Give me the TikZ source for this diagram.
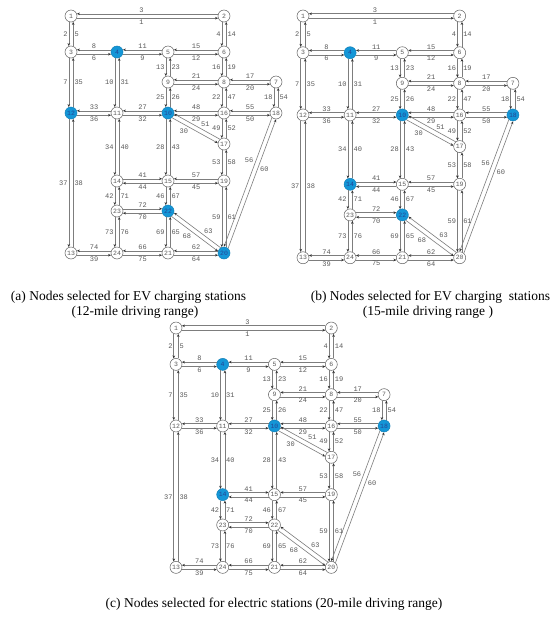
\documentclass[tikz,border=0pt]{standalone}
\usepackage{fontspec}
\setmainfont{Liberation Serif}
\newfontfamily\cour{Liberation Mono}
\usetikzlibrary{calc,arrows.meta}
\definecolor{selblue}{RGB}{20,150,215}
\definecolor{linkgray}{RGB}{125,125,125}
\definecolor{labgray}{RGB}{90,90,90}
\tikzset{
  stn/.style={circle, draw=gray!75!black, line width=0.5pt, fill=white,
    minimum size=12pt, inner sep=0pt,
    font=\cour\fontsize{6.5}{6.5}\selectfont, text=labgray},
  selnode/.style={fill=selblue, draw=selblue!85!black, text={rgb,255:red,35;green,70;blue,150}},
  link/.style={draw=linkgray, line width=0.6pt, shorten <=5.9pt, shorten >=5.9pt,
    -{Stealth[length=3pt,width=2.6pt,color=black!80]}},
  lab/.style={font=\cour\fontsize{7}{7}\selectfont, text=labgray, inner sep=1pt},
  captext/.style={font=\fontsize{13.5}{15}\selectfont, inner sep=0pt},
  sela4/.style={selnode}, sela12/.style={selnode}, sela10/.style={selnode},
  sela22/.style={selnode}, sela20/.style={selnode},
  selb4/.style={selnode}, selb10/.style={selnode}, selb18/.style={selnode},
  selb14/.style={selnode}, selb22/.style={selnode},
  selc4/.style={selnode}, selc10/.style={selnode}, selc18/.style={selnode},
  selc14/.style={selnode}
}
\newcommand\drawnet[1]{%
  \foreach \n/\x/\y in {1/0/0,2/153/0,3/0/36,4/46/36,5/97/36,6/153/36,7/205/66,
      8/153/66,9/97/66,10/97/97,11/46/97,12/0/97,13/0/237,14/46/165,15/97/165,
      16/153/97,17/153/128,18/205/97,19/153/165,20/153/237,21/97/237,22/97/195,
      23/46/195,24/46/237}{%
    \edef\tmp{\noexpand\node[stn,sel#1\n/.try] (#1\n) at (\x,\y) {\n};}\tmp
  }
  \foreach \s/\t/\l/\p in {1/2/1/.46, 1/3/2/.5, 2/1/3/.54, 2/6/4/.5, 3/1/5/.5,
      3/4/6/.5, 3/12/7/.5, 4/3/8/.5, 4/5/9/.5, 4/11/10/.5, 5/4/11/.5, 5/6/12/.5,
      5/9/13/.5, 6/2/14/.5, 6/5/15/.5, 6/8/16/.5, 7/8/17/.5, 7/18/18/.5,
      8/6/19/.5, 8/7/20/.5, 8/9/21/.5, 8/16/22/.5, 9/5/23/.5, 9/8/24/.5,
      9/10/25/.5, 10/9/26/.5, 10/11/27/.5, 10/15/28/.5, 10/16/29/.5, 10/17/30/.4,
      11/4/31/.5, 11/10/32/.5, 11/12/33/.5, 11/14/34/.5, 12/3/35/.5, 12/11/36/.5,
      12/13/37/.5, 13/12/38/.5, 13/24/39/.5, 14/11/40/.5, 14/23/42/.5,
      15/10/43/.5, 15/19/45/.5, 15/22/46/.5, 16/8/47/.5, 16/10/48/.5,
      16/17/49/.5, 16/18/50/.5, 17/10/51/.45, 17/16/52/.5, 17/19/53/.5,
      18/7/54/.5, 18/16/55/.5, 18/20/56/.37, 19/15/57/.5, 19/17/58/.5,
      19/20/59/.5, 20/18/60/.63, 20/19/61/.5, 20/21/62/.5, 20/22/63/.4,
      21/20/64/.5, 21/22/65/.5, 21/24/66/.5, 22/15/67/.5, 22/20/68/.46,
      22/21/69/.5, 23/14/71/.5, 23/24/73/.5, 24/13/74/.5, 24/21/75/.5,
      24/23/76/.5}{%
    \draw[link] ($(#1\s)!2.2pt!-90:(#1\t)$) --
      node[lab,pos=\p,auto,swap]{\l} ($(#1\t)!2.2pt!90:(#1\s)$);
  }
  \foreach \s/\t/\l in {14/15/41, 15/14/44, 23/22/72, 22/23/70}{%
    \draw[link] ($(#1\s)!2.2pt!90:(#1\t)$) --
      node[lab,midway,auto]{\l} ($(#1\t)!2.2pt!-90:(#1\s)$);
  }
}
\begin{document}
\begin{tikzpicture}[x=1pt,y=-1pt]
\useasboundingbox[fill=white] (0,0) rectangle (553,619);
\begin{scope}[shift={(71,16)}]
  \drawnet{a}
\end{scope}
\begin{scope}[shift={(303,16)},xscale=1.024,yscale=1.02]
  \drawnet{b}
\end{scope}
\begin{scope}[shift={(176,328)},xscale=1.015,yscale=1.01]
  \drawnet{c}
\end{scope}
\node[captext] (capa1) at (128.5,297) {(a) Nodes selected for EV charging stations};
\node[captext] (capa2) at (135,312) {(12-mile driving range)};
\node[captext] (capb1) at (430.5,297) {(b) Nodes selected for EV charging\ \ stations};
\node[captext] (capb2) at (428,312) {(15-mile driving range )};
\node[captext] (capc) at (274,604) {(c) Nodes selected for electric stations (20-mile driving range)};
\end{tikzpicture}
\end{document}
